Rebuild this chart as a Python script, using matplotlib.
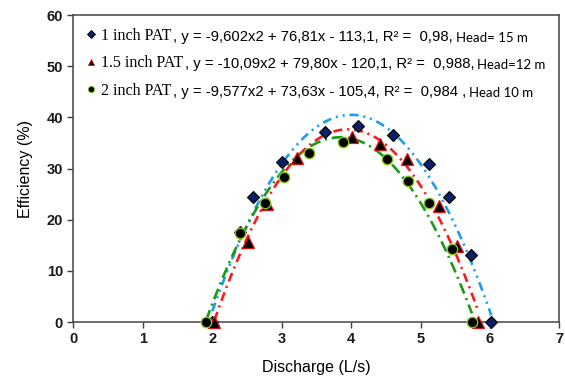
import numpy as np
import matplotlib
matplotlib.use("Agg")
import matplotlib.pyplot as plt
from matplotlib.lines import Line2D

plt.rcParams['lines.scale_dashes'] = False

# ---- data ----
x_1in = [2.00, 2.40, 2.59, 3.01, 3.63, 4.10, 4.61, 5.12, 5.41, 5.73, 6.02]
y_1in = [0.0, 17.6, 24.4, 31.3, 37.2, 38.3, 36.6, 30.8, 24.5, 13.1, 0.0]

x_15in = [2.03, 2.52, 2.79, 3.22, 4.02, 4.42, 4.81, 5.27, 5.53, 5.83]
y_15in = [0.0, 15.6, 23.0, 32.0, 36.1, 34.8, 31.8, 22.7, 14.9, 0.0]

x_2in = [1.91, 2.40, 2.76, 3.03, 3.39, 3.88, 4.51, 4.82, 5.12, 5.46, 5.74]
y_2in = [0.0, 17.5, 23.3, 28.3, 33.0, 35.1, 31.9, 27.6, 23.3, 14.3, 0.0]

# trendline coefficients (a, b, c) for y = a x^2 + b x + c
coef_1in = [-9.602, 76.81, -113.1]
coef_15in = [-10.09, 79.80, -120.1]
coef_2in = [-9.577, 73.63, -105.4]

names = ["1 inch PAT", "1.5 inch PAT", "2 inch PAT"]
equations = [", y = -9,602x2 + 76,81x - 113,1, R\u00b2 =  0,98,",
             ", y = -10,09x2 + 79,80x - 120,1, R\u00b2 =  0,988,",
             ", y = -9,577x2 + 73,63x - 105,4, R\u00b2 =  0,984 ,"]
heads = ["Head= 15 m", "Head=12 m", "Head 10 m"]

xticks = [0, 1, 2, 3, 4, 5, 6, 7]
yticks = [0, 10, 20, 30, 40, 50, 60]

# ---- figure ----
fig = plt.figure(figsize=(5.65, 3.78), dpi=100)
ax = fig.add_axes([0.130, 0.148, 0.860, 0.812])

series = [
    (x_1in, y_1in, coef_1in, '#1E9EEA', (0, (6.5, 3.5, 1.5, 3.5, 1.5, 3.5)),
     dict(marker='D', ms=6.5, mfc='#0B1F66', mec='#000000', mew=0.8)),
    (x_15in, y_15in, coef_15in, '#FF1A1A', (0, (6.5, 3.5, 1.5, 3.5)),
     dict(marker='^', ms=8, mfc='#000000', mec='#E01010', mew=0.9)),
    (x_2in, y_2in, coef_2in, '#1A9A1A', (0, (8, 3.5, 1.5, 3.5)),
     dict(marker='o', ms=7.5, mfc='#000000', mec='#86C21A', mew=1.0)),
]

handles = []
for xs, ys, coef, col, ls, mk in series:
    xx = np.linspace(min(xs), max(xs), 300)
    yy = np.polyval(coef, xx)
    ax.plot(xx, yy, color=col, lw=1.9, linestyle=ls, zorder=2)
for xs, ys, coef, col, ls, mk in series:
    ax.plot(xs, ys, linestyle='none', zorder=3, clip_on=False, **mk)
    h = Line2D([], [], linestyle='none', **{**mk, 'ms': mk['ms'] * 0.6, 'mew': 0.6})
    handles.append(h)

ax.set_xlim(0, 7)
ax.set_ylim(0, 60)
ax.set_xticks(xticks)
ax.set_yticks(yticks)
for lab in ax.get_xticklabels() + ax.get_yticklabels():
    lab.set_fontfamily('Liberation Sans')
    lab.set_fontweight('bold')
    lab.set_fontsize(10.5)
    lab.set_color('#1a1a1a')
ax.tick_params(axis='both', direction='out', length=4.5, width=1.0, color='#404040', pad=3)

for sp in ax.spines.values():
    sp.set_color('#444444')
    sp.set_linewidth(1.1)

ax.set_xlabel("Discharge (L/s)", fontfamily='Liberation Sans', fontsize=11.5, labelpad=10)
ax.set_ylabel("Efficiency (%)", fontfamily='Liberation Sans', fontsize=11.5, labelpad=10)

leg = ax.legend(handles, names, loc='upper left', bbox_to_anchor=(0.0, 1.0),
                frameon=False, prop={'family': 'Liberation Serif', 'size': 11.5},
                handlelength=0.6, handletextpad=0.3, labelspacing=0.72,
                borderpad=0.6, borderaxespad=0.2)

# place the rest of each legend line right after the legend label
fig.canvas.draw()
renderer = fig.canvas.get_renderer()
inv = ax.transAxes.inverted()
for txt, eq, hd in zip(leg.get_texts(), equations, heads):
    bb = txt.get_window_extent(renderer)
    x0, y0 = inv.transform((bb.x1 + 2, bb.y0))
    t1 = ax.text(x0, y0, eq, transform=ax.transAxes, ha='left', va='bottom',
                 fontfamily='Liberation Sans', fontsize=10.7)
    bb1 = t1.get_window_extent(renderer)
    x1, y1 = inv.transform((bb1.x1 + 3, bb1.y0))
    ax.text(x1, y1, hd, transform=ax.transAxes, ha='left', va='bottom',
            fontfamily='Lato', fontsize=9.5)

fig.savefig("out.png", dpi=100)
